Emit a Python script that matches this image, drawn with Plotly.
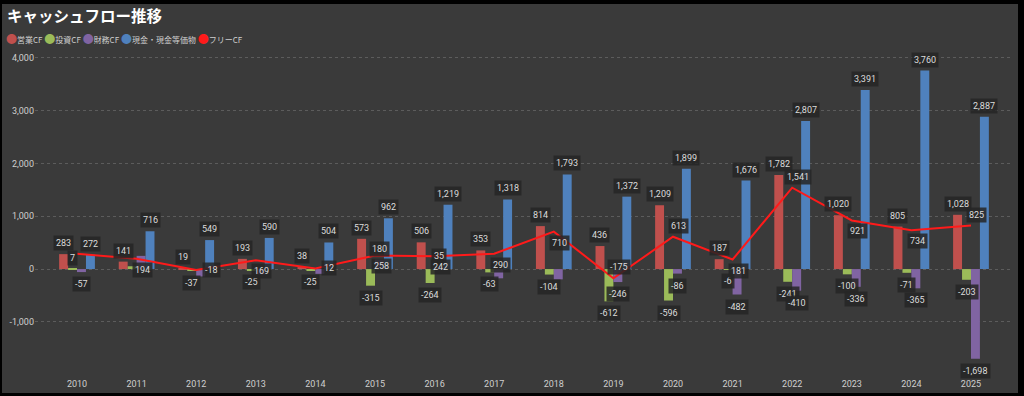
import plotly.graph_objects as go

# ---- data ----
years = [str(y) for y in range(2010, 2026)]
operating = [283, 141, 19, 193, 38, 573, 506, 353, 814, 436, 1209, 187, 1782, 1020, 805, 1028]
investing = [7, 53, -37, -25, -25, -315, -264, -63, -104, -612, -596, -6, -241, -100, -71, -203]
financing = [-57, 250, -140, -100, -90, 180, 35, -175, -195, -246, -86, -482, -410, -336, -365, -1698]
cash = [272, 716, 549, 590, 504, 962, 1219, 1318, 1793, 1372, 1899, 1676, 2807, 3391, 3760, 2887]
free_cf = [290, 194, -18, 169, 12, 258, 242, 290, 710, -175, 613, 181, 1541, 921, 734, 825]
y_ticks = [-1000, 0, 1000, 2000, 3000, 4000]
series_names = ["営業CF", "投資CF", "財務CF", "現金・現金等価物", "フリーCF"]

# ---- styles ----
colors = ["#C0504D", "#9BBB59", "#8064A2", "#4F81BD", "#FF1A1A"]
bar_width = 0.15
bar_offsets = [-0.30, -0.15, 0.0, 0.15]
# labels hidden in the original (overlap avoidance), by series position
hide_labels = [set(), {1}, {1, 2, 3, 4, 7, 8}, set(), {0}]
free_label_side = ["above", "below", "right", "below", "right", "below", "below", "below",
                   "below", "above", "above", "below", "above", "below", "below", "above"]

W, H = 1024, 396
ml, mr, mt, mb = 35, 11, 50, 24
pw, ph = W - ml - mr, H - mt - mb

idx = list(range(len(years)))
fig = go.Figure()

bar_series = [operating, investing, financing, cash]
for s, vals in enumerate(bar_series):
    fig.add_trace(go.Bar(
        x=idx, y=vals, width=bar_width, offset=bar_offsets[s],
        marker=dict(color=colors[s], line=dict(width=0)),
        name=series_names[s], showlegend=False, hoverinfo="y",
    ))

fig.add_trace(go.Scatter(
    x=idx, y=free_cf, mode="lines", line=dict(color=colors[4], width=2),
    name=series_names[4], showlegend=False,
))

label_style = dict(
    showarrow=False, font=dict(family="Roboto, Noto Sans", size=9, color="#dcdcdc"),
    bgcolor="rgba(38,38,38,0.85)", borderpad=2,
)

annotations = []
for s, vals in enumerate(bar_series):
    center = bar_offsets[s] + bar_width / 2
    for i, v in enumerate(vals):
        if i in hide_labels[s]:
            continue
        pos = v >= 0
        annotations.append(dict(
            x=i + center, y=v, xref="x", yref="y", text=f"{v:,}",
            yanchor="bottom" if pos else "top", yshift=3 if pos else -4,
            **label_style,
        ))
for i, v in enumerate(free_cf):
    if i in hide_labels[4]:
        continue
    side = free_label_side[i]
    if side == "right":
        pos_kw = dict(xanchor="left", xshift=6, yanchor="middle", yshift=0)
    elif side == "above":
        pos_kw = dict(xanchor="center", xshift=6, yanchor="bottom", yshift=3)
    else:
        pos_kw = dict(xanchor="center", xshift=6, yanchor="top", yshift=-3)
    annotations.append(dict(
        x=i, y=v, xref="x", yref="y", text=f"{v:,}", **pos_kw, **label_style,
    ))

# legend drawn as text with coloured dots
legend_text = " ".join(
    f"<span style='color:{c};font-size:11px'>●</span>{n}" for c, n in zip(colors, series_names)
)
annotations.append(dict(
    x=(4 - ml) / pw, y=(H - mb - 38) / ph, xref="paper", yref="paper",
    xanchor="left", yanchor="middle", text=legend_text, showarrow=False,
    font=dict(family="Noto Sans CJK JP", size=8, color="#cfcfcf"),
))

# panel with black frame
shapes = [dict(
    type="rect", xref="paper", yref="paper", layer="below",
    x0=(2 - ml) / pw, x1=(1018 - ml) / pw,
    y0=(H - mb - 393) / ph, y1=(H - mb - 4) / ph,
    fillcolor="#3a3a3a", line=dict(width=0),
)]

fig.update_layout(
    width=W, height=H,
    margin=dict(l=ml, r=mr, t=mt, b=mb, autoexpand=False),
    paper_bgcolor="#000000", plot_bgcolor="rgba(0,0,0,0)",
    barmode="overlay",
    title=dict(
        text="<b>キャッシュフロー推移</b>", x=7 / W, xref="container", xanchor="left",
        y=1 - 17 / H, yref="container", yanchor="middle",
        font=dict(family="Noto Sans CJK JP", size=15.5, color="#ffffff"),
    ),
    xaxis=dict(
        range=[-0.705, 15.705], tickmode="array", tickvals=idx, ticktext=years,
        showgrid=False, zeroline=False, showline=False, ticks="", automargin=False,
        ticklabelstandoff=5,
        tickfont=dict(family="Roboto, Noto Sans", size=9, color="#cfcfcf"),
    ),
    yaxis=dict(
        range=[-1950, 4150], tickmode="array", tickvals=y_ticks,
        ticktext=[f"{v:,}" for v in y_ticks], automargin=False,
        showgrid=True, gridcolor="#5c5c5c", griddash="dot", gridwidth=1,
        zeroline=False, showline=False, ticks="",
        tickfont=dict(family="Roboto, Noto Sans", size=9, color="#cfcfcf"),
    ),
    annotations=annotations, shapes=shapes,
)

fig.write_html(
    "out.html",
    config={"displayModeBar": False},
    post_script="document.body.style.margin='0px';document.body.style.overflow='hidden';",
)
